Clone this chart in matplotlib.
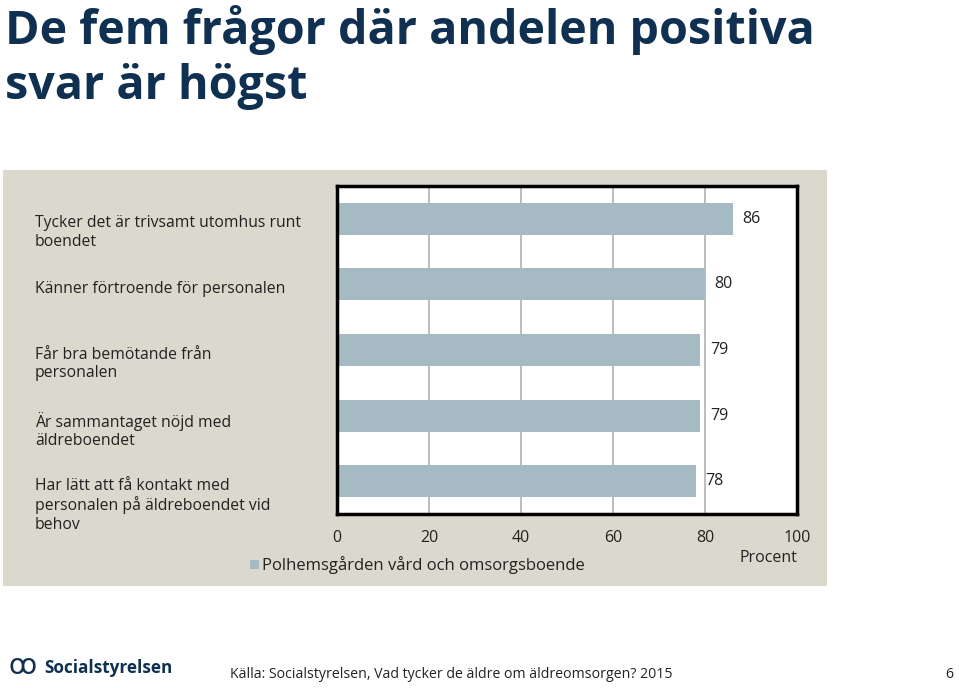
import matplotlib.pyplot as plt
from matplotlib.patches import Rectangle

# data
questions = [
    "Tycker det är trivsamt utomhus runt\nboendet",
    "Känner förtroende för personalen",
    "Får bra bemötande från\npersonalen",
    "Är sammantaget nöjd med\näldreboendet",
    "Har lätt att få kontakt med\npersonalen på äldreboendet vid\nbehov",
]
values = [86, 80, 79, 79, 78]
series_name = "Polhemsgården vård och omsorgsboende"
xticks = [0, 20, 40, 60, 80, 100]

navy = "#0f3050"
bar_col = "#a6bac4"
panel_col = "#dbd8cd"
txt = "#222222"
plt.rcParams['font.family'] = ['Open Sans', 'DejaVu Sans']

W, H = 959, 688
fig = plt.figure(figsize=(W / 100, H / 100), dpi=100)
fig.patch.set_facecolor("white")

def fx(px):
    return px / W

def fy(py):
    return 1 - py / H

# grey panel behind chart
bg = fig.add_axes([fx(3), fy(586), fx(824), 416 / H])
bg.set_facecolor(panel_col)
bg.set_xticks([])
bg.set_yticks([])
for s in bg.spines.values():
    s.set_visible(False)
bg.set_zorder(0)

ax = fig.add_axes([fx(337), fy(514), fx(797) - fx(337), fy(186) - fy(514)])
ax.set_zorder(1)
ax.set_facecolor("white")
y = list(range(len(values)))
ax.barh(y, values, height=0.49, color=bar_col, zorder=2)
ax.set_xlim(0, 100)
ax.set_ylim(len(values) - 0.5, -0.5)
ax.set_xticks(xticks)
ax.set_xticklabels([str(t) for t in xticks], fontsize=11.5, color=txt)
ax.tick_params(axis="x", length=0, pad=11.5)
ax.set_yticks([])
ax.grid(axis="x", color="#b8b8b8", linewidth=1.3, zorder=1)
for s in ax.spines.values():
    s.set_linewidth(2.5)
    s.set_color("black")

for yi, v in zip(y, values):
    ax.annotate(str(v), (v, yi), xytext=(7, 0), textcoords="offset points",
                va="center", ha="left", fontsize=11.5, color=txt)

for yi, q in zip(y, questions):
    ax.annotate(q, (fx(35), yi), xycoords=("figure fraction", "data"),
                xytext=(0, 2.5), textcoords="offset points",
                va="top", ha="left", fontsize=11.3, color=txt,
                linespacing=1.2, annotation_clip=False)

fig.text(fx(797), fy(558), "Procent", ha="right", va="center",
         fontsize=11.5, color=txt, zorder=3)
fig.patches.append(Rectangle((fx(250), fy(569)), fx(9), 9 / H,
                             transform=fig.transFigure, facecolor=bar_col,
                             edgecolor="none", zorder=3))
fig.text(fx(262), fy(565), series_name, ha="left", va="center",
         fontsize=12, color=txt, zorder=3)

# title
fig.text(fx(5), fy(30), "De fem frågor där andelen positiva", ha="left",
         va="center", fontsize=33.6, fontweight="bold", color=navy)
fig.text(fx(5), fy(87), "svar är högst", ha="left",
         va="center", fontsize=33.6, fontweight="bold", color=navy)

# footer
fig.text(fx(8), fy(666), "ꝏ", ha="left", va="center", fontsize=20,
         color=navy, family=["DejaVu Sans"])
fig.text(fx(44), fy(668), "Socialstyrelsen", ha="left", va="center",
         fontsize=12.3, fontweight="bold", color=navy)
fig.text(fx(230), fy(675), "Källa: Socialstyrelsen, Vad tycker de äldre om äldreomsorgen? 2015",
         ha="left", va="center", fontsize=10.2, color=txt)
fig.text(fx(953), fy(675), "6", ha="right", va="center", fontsize=10.2,
         color=txt)

fig.savefig("out.png", dpi=100)
